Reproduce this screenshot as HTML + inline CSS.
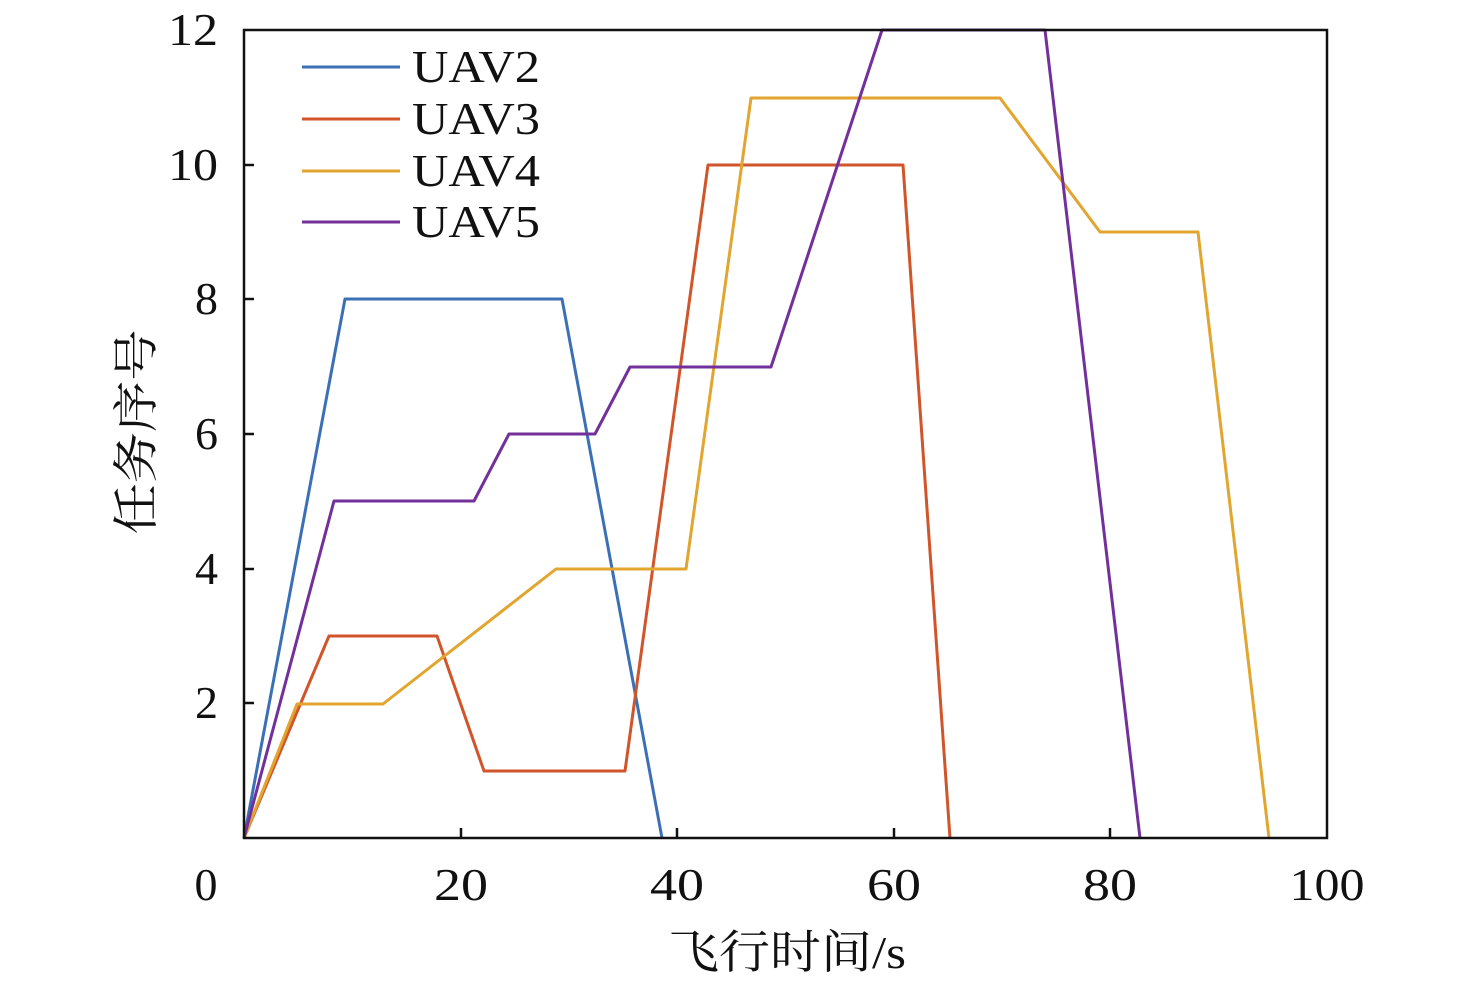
<!DOCTYPE html>
<html><head><meta charset="utf-8"><style>
html,body{margin:0;padding:0;background:#fff;}
svg{display:block;}
text{font-family:"Liberation Serif","Times New Roman",serif;fill:#111;}
text.cjk{font-family:"Liberation Serif","Noto Serif CJK SC",serif;}
</style></head><body>
<svg width="1476" height="986" viewBox="0 0 1476 986" xmlns="http://www.w3.org/2000/svg">
<g fill="none" stroke-width="3" stroke-linejoin="round">
<polyline stroke="#3b70b6" points="244,838 345,299 562,299 662,838"/>
<polyline stroke="#d1552b" points="244,838 329,636 437,636 484,771 625,771 708,165 903,165 950,838"/>
<polyline stroke="#e2a52f" points="244,838 297,704 383,704 556,569 686,569 751,98 1000,98 1100,232 1198,232 1269,838"/>
<polyline stroke="#73309b" points="244,838 334,501 474,501 509,434 595,434 630,367 771,367 882,30 1045,30 1140,838"/>
</g>
<rect x="244" y="30" width="1083" height="808" fill="none" stroke="#111" stroke-width="2.5"/>
<g stroke="#111" stroke-width="2.5">
<line x1="461" y1="838" x2="461" y2="828"/><line x1="677" y1="838" x2="677" y2="828"/>
<line x1="894" y1="838" x2="894" y2="828"/><line x1="1110" y1="838" x2="1110" y2="828"/>
<line x1="244" y1="703" x2="254" y2="703"/><line x1="244" y1="569" x2="254" y2="569"/>
<line x1="244" y1="434" x2="254" y2="434"/><line x1="244" y1="299" x2="254" y2="299"/>
<line x1="244" y1="165" x2="254" y2="165"/>
</g>
<g font-size="46" text-anchor="end">
<text x="218" y="45" textLength="50" lengthAdjust="spacingAndGlyphs">12</text>
<text x="218" y="180" textLength="50" lengthAdjust="spacingAndGlyphs">10</text>
<text x="218" y="314">8</text>
<text x="218" y="449">6</text><text x="218" y="584">4</text><text x="218" y="718">2</text>
</g>
<g font-size="46" text-anchor="middle">
<text x="206" y="900">0</text>
<text x="461" y="900" textLength="54" lengthAdjust="spacingAndGlyphs">20</text>
<text x="677" y="900" textLength="54" lengthAdjust="spacingAndGlyphs">40</text>
<text x="894" y="900" textLength="54" lengthAdjust="spacingAndGlyphs">60</text>
<text x="1110" y="900" textLength="54" lengthAdjust="spacingAndGlyphs">80</text>
<text x="1327" y="900" textLength="75" lengthAdjust="spacingAndGlyphs">100</text>
</g>
<text class="cjk" font-size="46" text-anchor="middle" x="787" y="968" textLength="238" lengthAdjust="spacingAndGlyphs">飞行时间/s</text>
<text class="cjk" font-size="46" text-anchor="middle" transform="translate(152,432) rotate(-90)" textLength="205" lengthAdjust="spacingAndGlyphs">任务序号</text>
<g stroke-width="3">
<line x1="302" y1="67" x2="400" y2="67" stroke="#3b70b6"/>
<line x1="302" y1="119" x2="400" y2="119" stroke="#d1552b"/>
<line x1="302" y1="171" x2="400" y2="171" stroke="#e2a52f"/>
<line x1="302" y1="222" x2="400" y2="222" stroke="#73309b"/>
</g>
<g font-size="46">
<text x="412" y="82" textLength="128" lengthAdjust="spacingAndGlyphs">UAV2</text>
<text x="412" y="134" textLength="128" lengthAdjust="spacingAndGlyphs">UAV3</text>
<text x="412" y="186" textLength="128" lengthAdjust="spacingAndGlyphs">UAV4</text>
<text x="412" y="237" textLength="128" lengthAdjust="spacingAndGlyphs">UAV5</text>
</g>
</svg>
</body></html>
